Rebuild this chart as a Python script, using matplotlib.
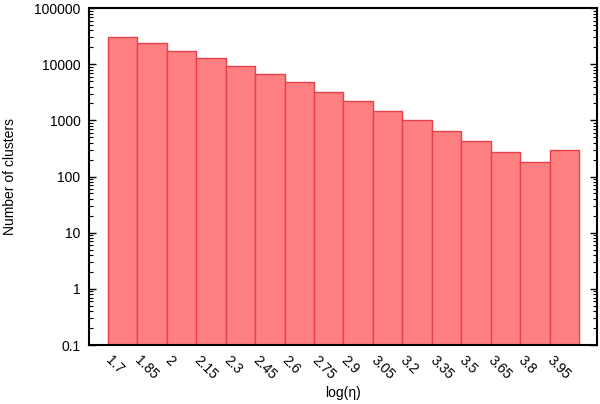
import numpy as np
import matplotlib
matplotlib.use("Agg")
import matplotlib.pyplot as plt
from matplotlib.ticker import FixedLocator, FixedFormatter, LogLocator, NullFormatter

plt.rcParams['font.family'] = ['Liberation Sans', 'DejaVu Sans']

# bin labels (log eta) and cluster counts
bins = ['1.7', '1.85', '2', '2.15', '2.3', '2.45', '2.6', '2.75',
        '2.9', '3.05', '3.2', '3.35', '3.5', '3.65', '3.8', '3.95']
counts = [30000, 23500, 17400, 12900, 9270, 6600, 4750, 3235,
          2180, 1485, 1000, 655, 423, 273, 179, 292]
yticks = [0.1, 1, 10, 100, 1000, 10000, 100000]
ytick_labels = ['0.1', '1', '10', '100', '1000', '10000', '100000']

fig = plt.figure(figsize=(6, 4.04), dpi=100)
ax = fig.add_axes([0.148, 0.146, 0.847, 0.834])

x = np.arange(len(bins))
ax.bar(x, counts, width=1.0, bottom=0.1, color='#ff8080',
       edgecolor='#e8404c', linewidth=1.0)

ax.set_yscale('log')
ax.set_ylim(0.1, 100000)
ax.set_xlim(-1.145, 16.11)

ax.yaxis.set_major_locator(FixedLocator(yticks))
ax.yaxis.set_major_formatter(FixedFormatter(ytick_labels))
ax.yaxis.set_minor_locator(LogLocator(base=10, subs=np.arange(2, 10)))
ax.yaxis.set_minor_formatter(NullFormatter())
ax.tick_params(axis='y', which='major', direction='in', length=5, width=1,
               right=True, labelsize=10, pad=6)
ax.tick_params(axis='y', which='minor', direction='in', length=3, width=0.8,
               right=True)

ax.set_xticks(x - 0.33)
ax.set_xticklabels(bins, rotation=-45, ha='left', va='top',
                   rotation_mode='anchor')
ax.tick_params(axis='x', length=0, labelsize=10, pad=6)

for s in ax.spines.values():
    s.set_linewidth(1.5)

ax.set_ylabel('Number of clusters', fontsize=10, va='center')
ax.yaxis.set_label_coords(-0.155, 0.5)
ax.set_xlabel('log(η)', fontsize=10, va='center')
ax.xaxis.set_label_coords(0.5, -0.142)

fig.savefig('out.png', dpi=100)
